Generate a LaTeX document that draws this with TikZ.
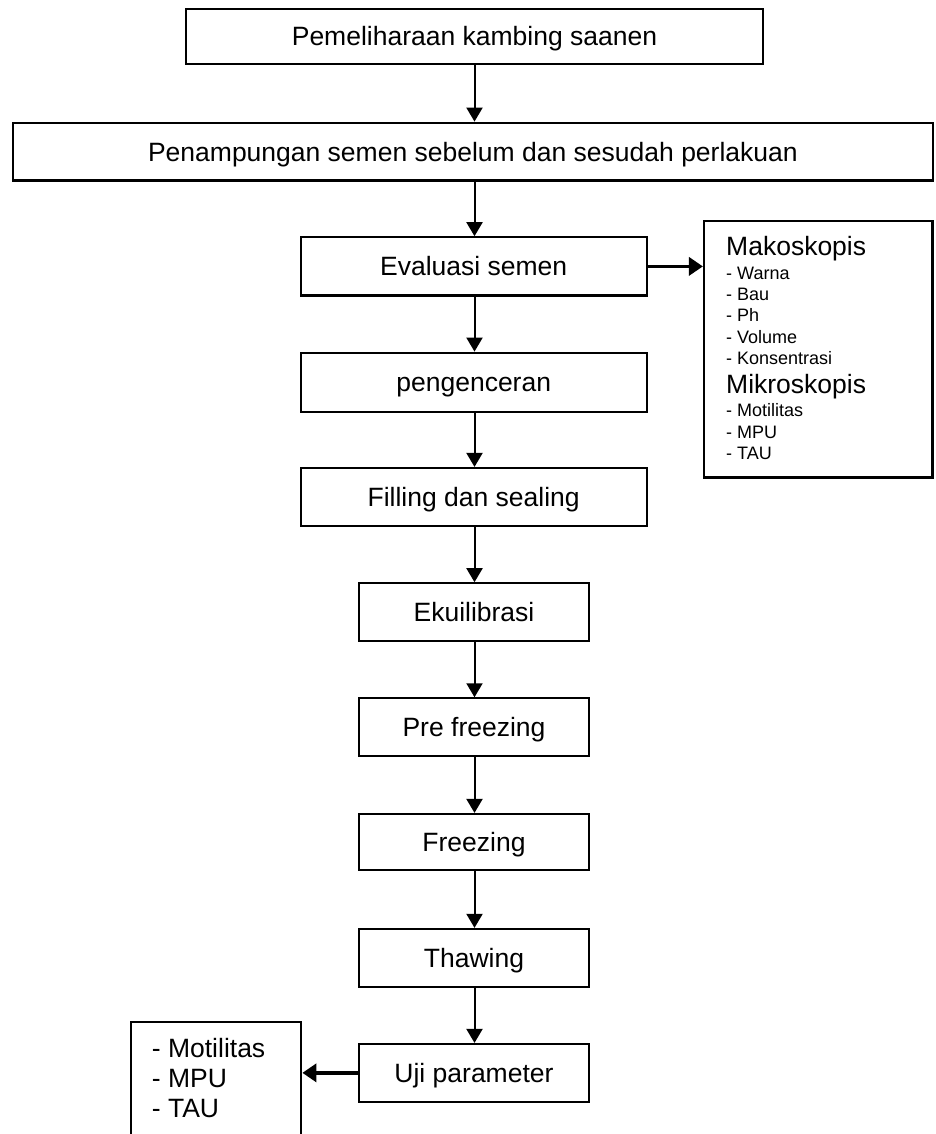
\documentclass[tikz,border=0pt]{standalone}
\usepackage{fontspec}
\setmainfont{Liberation Sans}
\usetikzlibrary{arrows.meta}
\begin{document}
\begin{tikzpicture}[x=1pt,y=-1pt,
  box/.style={draw, line width=2.2pt, rectangle, inner sep=0pt, text height=19pt, text depth=0pt, font=\fontsize{26.5}{30}\selectfont},
  frame/.style={draw, line width=2.2pt, rectangle, inner sep=0pt},
  arr/.style={line width=2pt, -{Triangle[length=14pt,width=16pt]}},
  tarr/.style={line width=3.5pt, -{Triangle[length=14pt,width=18pt]}},
  big/.style={inner sep=0pt, anchor=base west, font=\fontsize{26.5}{30}\selectfont},
  small/.style={inner sep=0pt, anchor=base west, font=\fontsize{18}{21}\selectfont}]
\useasboundingbox (0,0) rectangle (936,1134);
\begin{scope}
\clip (0,0) rectangle (936,1134);
\coordinate (col) at (474.5,0);
\node[box, minimum width=577pt, minimum height=55pt] (b1) at (474.5,36.5) {Pemeliharaan kambing saanen};
\node[box, minimum width=920pt, minimum height=57.8pt] (b2) at (472.9,151.6) {Penampungan semen sebelum dan sesudah perlakuan};
\node[box, minimum width=346pt, minimum height=58.2pt] (b3) at (473.7,266.4) {Evaluasi semen};
\node[box, minimum width=346pt, minimum height=59pt] (b4) at (473.7,382.2) {pengenceran};
\node[box, minimum width=346pt, minimum height=58pt] (b5) at (473.7,497) {Filling dan sealing};
\node[box, minimum width=230.6pt, minimum height=58pt] (b6) at (474,612.3) {Ekuilibrasi};
\node[box, minimum width=230.6pt, minimum height=57.7pt] (b7) at (474,727.2) {Pre freezing};
\node[box, minimum width=230.6pt, minimum height=56pt] (b8) at (474,842) {Freezing};
\node[box, minimum width=230.6pt, minimum height=57.7pt] (b9) at (474,957.8) {Thawing};
\node[box, minimum width=230.6pt, minimum height=57.7pt] (b10) at (474,1072.85) {Uji parameter};
% right box
\node[frame, minimum width=228.5pt, minimum height=256.5pt] (rbox) at (818.25,349.25) {};
\node[big] (mak) at (726,255) {Makoskopis};
\node[small] (r1) at (726,279.3) {- Warna};
\node[small] (r2) at (726,300.5) {- Bau};
\node[small] (r3) at (726,321.7) {- Ph};
\node[small] (r4) at (726,343) {- Volume};
\node[small] (r5) at (726,364.3) {- Konsentrasi};
\node[big] (mik) at (726,393.3) {Mikroskopis};
\node[small] (r6) at (726,416.7) {- Motilitas};
\node[small] (r7) at (726,438.3) {- MPU};
\node[small] (r8) at (726,459.5) {- TAU};
% left box
\node[frame, anchor=north, minimum width=170.3pt, minimum height=140pt] (lbox) at (216.15,1020.7) {};
\node[big] (l1) at (151.7,1057.3) {- Motilitas};
\node[big] (l2) at (151.7,1087.3) {- MPU};
\node[big] (l3) at (151.7,1117.3) {- TAU};
% arrows
\draw[arr] (b1.south -| col) -- (b2.north -| col);
\draw[arr] (b2.south -| col) -- (b3.north -| col);
\draw[arr] (b3.south -| col) -- (b4.north -| col);
\draw[arr] (b4.south -| col) -- (b5.north -| col);
\draw[arr] (b5.south -| col) -- (b6.north -| col);
\draw[arr] (b6.south -| col) -- (b7.north -| col);
\draw[arr] (b7.south -| col) -- (b8.north -| col);
\draw[arr] (b8.south -| col) -- (b9.north -| col);
\draw[arr] (b9.south -| col) -- (b10.north -| col);
\draw[tarr] (b3.east) -- (b3.east -| rbox.west);
\draw[tarr] (b10.west) -- (b10.west -| lbox.east);
\end{scope}
\end{tikzpicture}
\end{document}
